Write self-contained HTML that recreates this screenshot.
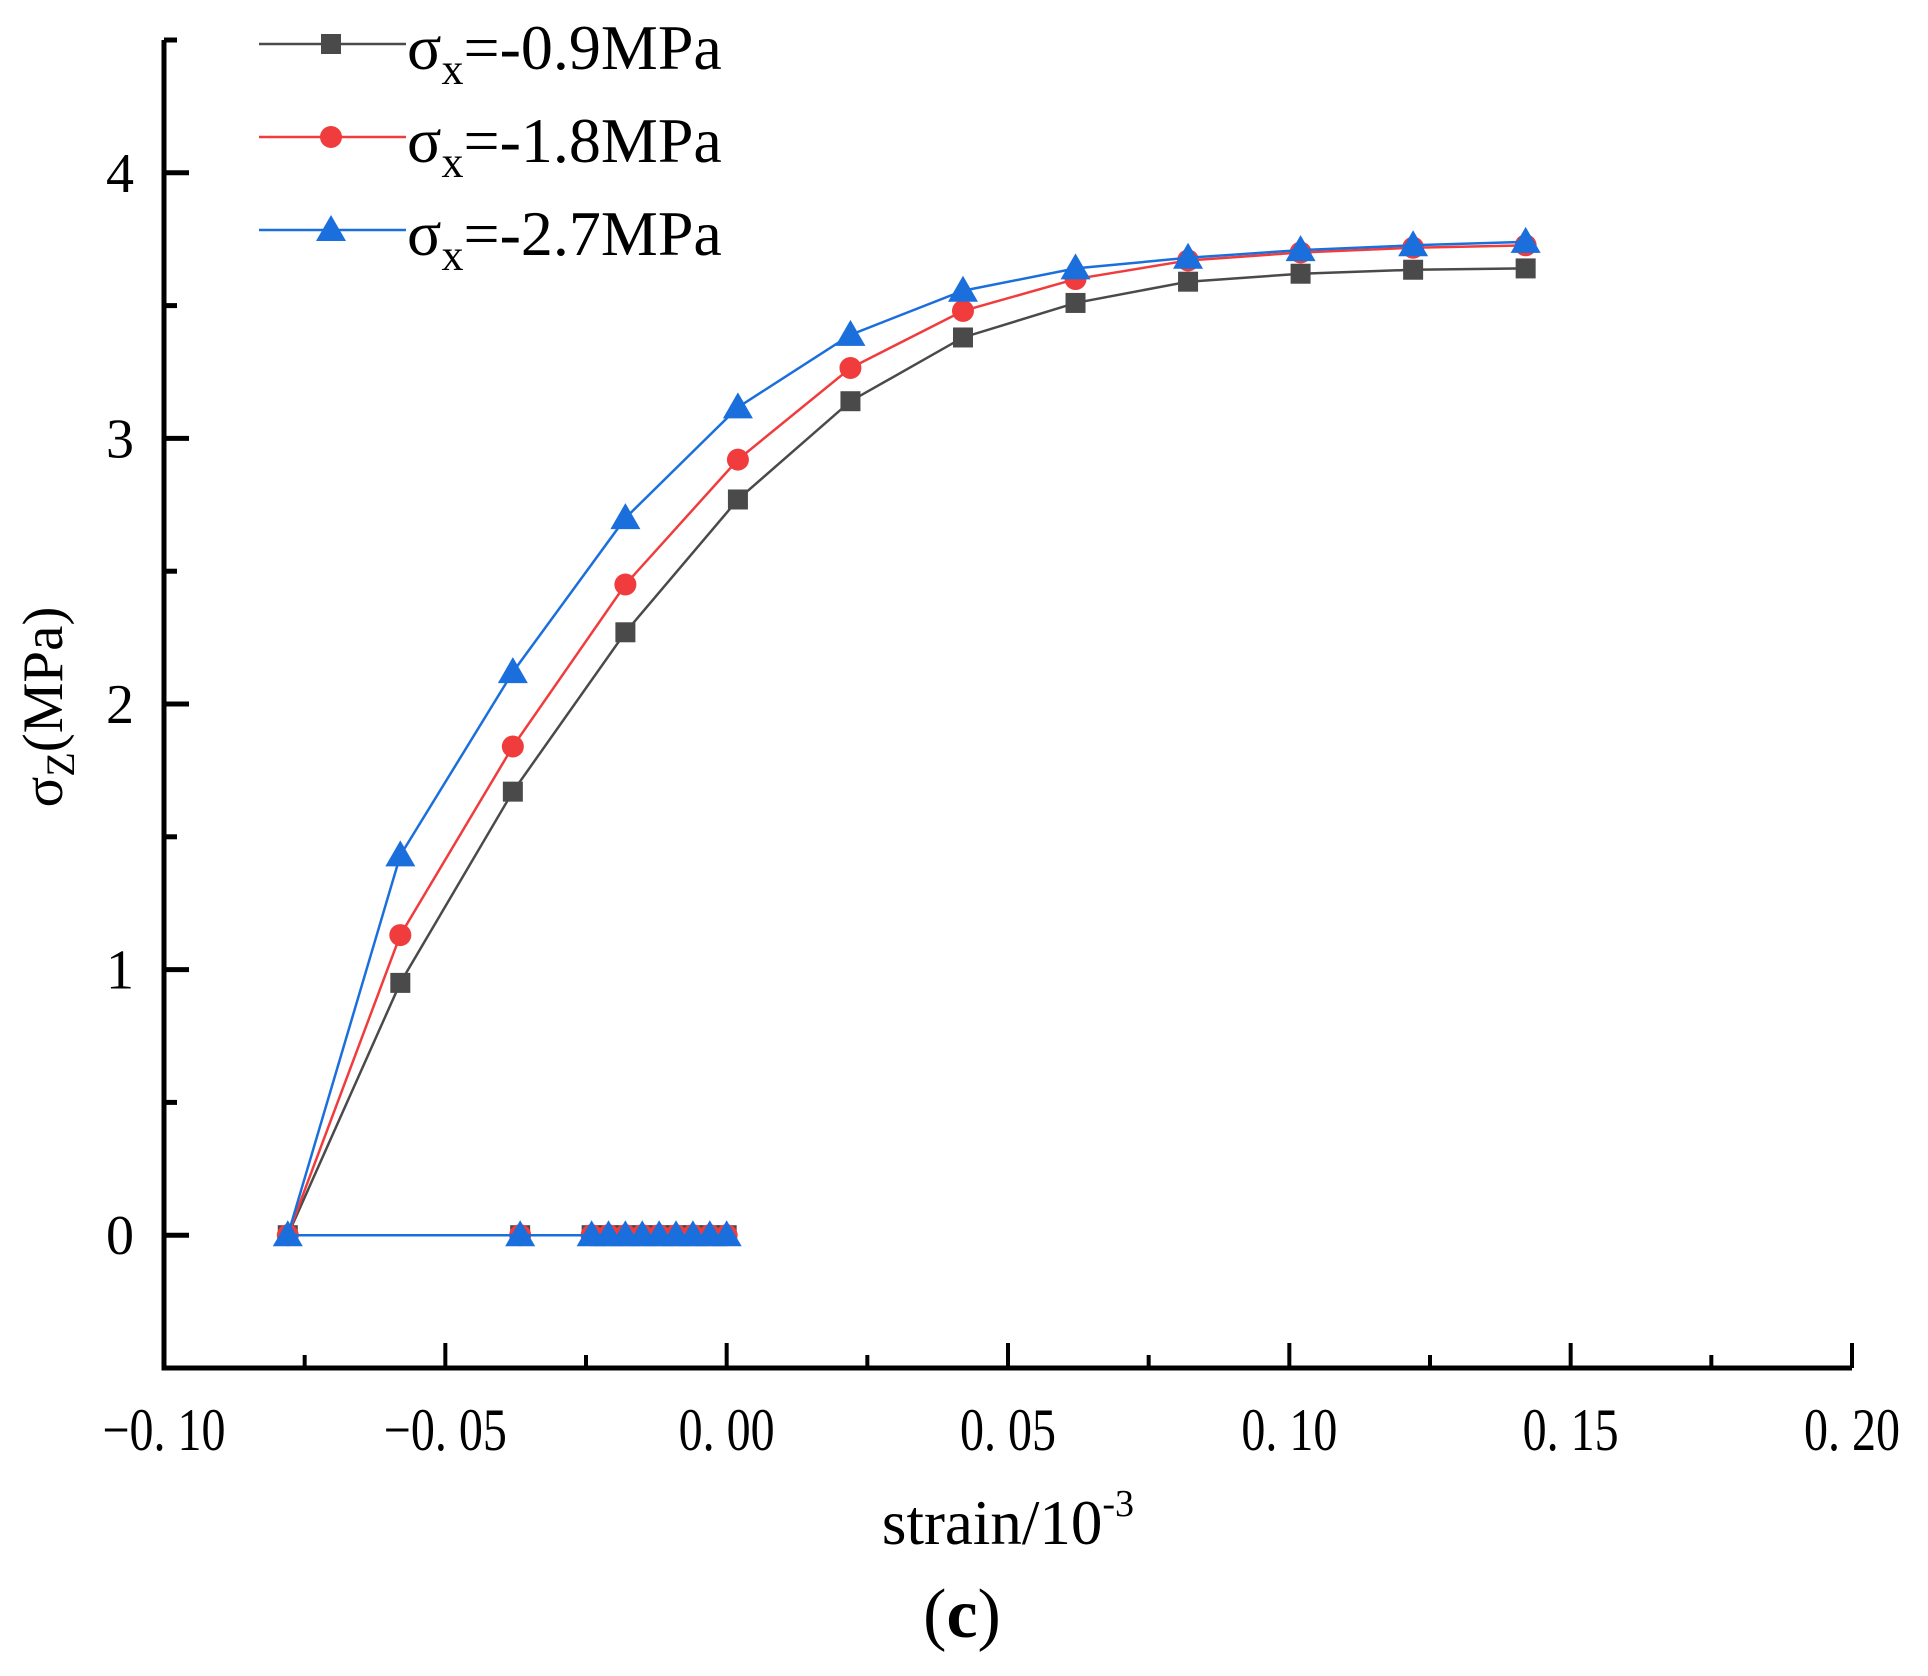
<!DOCTYPE html>
<html><head><meta charset="utf-8"><style>
html,body{margin:0;padding:0;background:#fff;}
svg{display:block;font-family:"Liberation Serif",serif;}
</style></head><body>
<svg id="chart" width="1928" height="1676" viewBox="0 0 1928 1676" xmlns="http://www.w3.org/2000/svg">
<g id="axes"></g>
<g id="series"></g>
<g id="legend"></g>
<text x="1008" y="1544" font-size="63" text-anchor="middle">strain/10<tspan font-size="38" dy="-28">-3</tspan></text>
<text x="962" y="1637" font-size="70" text-anchor="middle">(<tspan font-weight="bold">c</tspan>)</text>
<text transform="translate(62,707) rotate(-90)" font-size="57" text-anchor="middle">σ<tspan font-size="40" dy="12">Z</tspan><tspan dy="-12">(MPa)</tspan></text>
</svg>
<script>
const xZeros = [0.0, -0.003, -0.006, -0.009, -0.012, -0.015, -0.018, -0.021, -0.024, -0.0367, -0.078];
const xRise = [-0.058, -0.038, -0.018, 0.002, 0.022, 0.042, 0.062, 0.082, 0.102, 0.122, 0.142];
const s1Values = [0.95, 1.67, 2.27, 2.77, 3.14, 3.38, 3.51, 3.59, 3.62, 3.635, 3.64];
const s2Values = [1.13, 1.84, 2.45, 2.92, 3.265, 3.48, 3.60, 3.67, 3.70, 3.718, 3.727];
const s3Values = [1.43, 2.12, 2.70, 3.117, 3.39, 3.556, 3.64, 3.68, 3.709, 3.727, 3.74];
const seriesNames = ["σx=-0.9MPa", "σx=-1.8MPa", "σx=-2.7MPa"];
const xTicks = [-0.10, -0.05, 0.00, 0.05, 0.10, 0.15, 0.20];
const xTickLabels = ["−0. 10", "−0. 05", "0. 00", "0. 05", "0. 10", "0. 15", "0. 20"];
const yTicks = [0, 1, 2, 3, 4];

const NS = "http://www.w3.org/2000/svg";
const L = 164, R = 1852, T = 40, B = 1368;
const xMin = -0.10, xMax = 0.20, yMin = -0.5, yMax = 4.5;
function X(v){ return L + (v - xMin) / (xMax - xMin) * (R - L); }
function Y(v){ return B - (v - yMin) / (yMax - yMin) * (B - T); }
function mk(tag, attrs, parent){ const e = document.createElementNS(NS, tag); for (const k in attrs) e.setAttribute(k, attrs[k]); parent.appendChild(e); return e; }

const axes = document.getElementById('axes');
let e = mk('path', {d:`M${L} ${T}V${B}H${R}`, fill:'none', stroke:'#000', 'stroke-width':5}, axes);


xTicks.forEach((t, i) => {
  const x = X(t);
  const tk = mk('line', {x1:x, x2:x, y1:B, y2:B-25, stroke:'#000', 'stroke-width':4}, axes);
  
  
  if (i < xTicks.length - 1) {
    const xm = X(t + 0.025);
    const mt = mk('line', {x1:xm, x2:xm, y1:B, y2:B-13, stroke:'#000', 'stroke-width':4}, axes);
    
    
  }
  const lb = mk('text', {x:0, y:0, 'font-size':60, 'text-anchor':'middle', transform:`translate(${x},1450) scale(0.8,1)`}, axes);
  lb.textContent = xTickLabels[i];
  
  
});
yTicks.forEach(t => {
  const y = Y(t);
  const tk = mk('line', {x1:L, x2:L+25, y1:y, y2:y, stroke:'#000', 'stroke-width':5}, axes);
  
  
  const lb = mk('text', {x:120, y:y+19, 'font-size':56, 'text-anchor':'middle'}, axes);
  lb.textContent = String(t);
  
  
});
[-0.5, 0.5, 1.5, 2.5, 3.5, 4.5].forEach(t => {
  const y = Y(t);
  const mt = mk('line', {x1:L, x2:L+13, y1:y, y2:y, stroke:'#000', 'stroke-width':5}, axes);
  
  
});

const colors = ['#4a4a4a', '#f03c3c', '#1a6fdc'];
const vals = [s1Values, s2Values, s3Values];
function marker(k, x, y, parent){
  let m;
  if (k === 0) m = mk('rect', {x:x-10, y:y-10, width:20, height:20, fill:colors[0]}, parent);
  else if (k === 1) m = mk('circle', {cx:x, cy:y, r:11, fill:colors[1]}, parent);
  else m = mk('polygon', {points:`${x},${y-15} ${x-15},${y+11} ${x+15},${y+11}`, fill:colors[2]}, parent);
  return m;
}
const sg = document.getElementById('series');
vals.forEach((vs, k) => {
  const g = mk('g', {}, sg);
  
  
  const pts = xZeros.map(x => [X(x), Y(0)]).concat(xRise.map((x, i) => [X(x), Y(vs[i])]));
  const ln = mk('polyline', {points: pts.map(p => p.join(',')).join(' '), fill:'none', stroke:colors[k], 'stroke-width':2.5}, g);
  
  
  pts.forEach(p => {
    const m = marker(k, p[0], p[1], g);
    
    
  });
});

const lg = document.getElementById('legend');
[49, 142, 235].forEach((y, k) => {
  const g = mk('g', {}, lg);
  
  
  mk('line', {x1:259, x2:406, y1:y-5, y2:y-5, stroke:colors[k], 'stroke-width':2.5}, g);
  marker(k, 331, y-5, g);
  const t = mk('text', {x:407, y:y+20, 'font-size':64}, g);
  t.innerHTML = 'σ<tspan font-size="44" dy="15">x</tspan><tspan dy="-15">' + seriesNames[k].slice(2) + '</tspan>';
});
</script>
</body></html>
